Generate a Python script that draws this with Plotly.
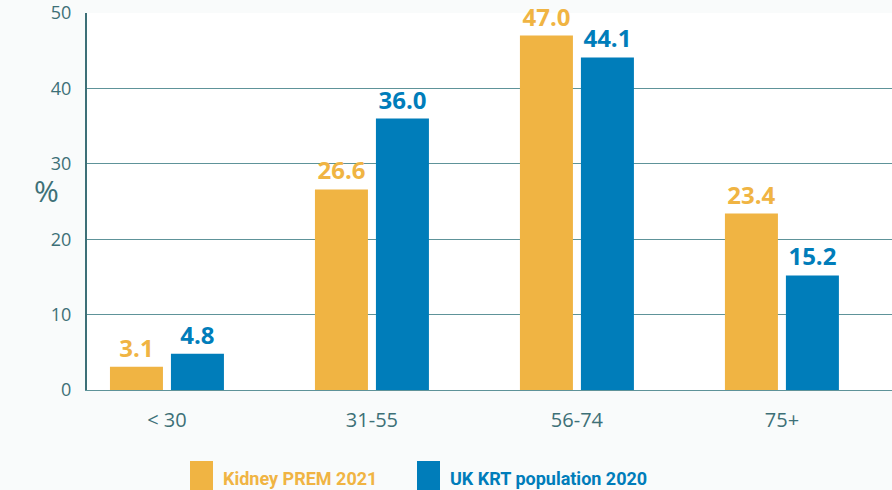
import plotly.graph_objects as go

categories = ["< 30", "31-55", "56-74", "75+"]
series_names = ["Kidney PREM 2021", "UK KRT population 2020"]
prem_2021 = [3.1, 26.6, 47.0, 23.4]
krt_2020 = [4.8, 36.0, 44.1, 15.2]
y_ticks = [0, 10, 20, 30, 40, 50]

ORANGE = "#F0B443"
BLUE = "#007DBA"
TEAL = "#3D7077"
FONT = "Open Sans"

fig = go.Figure()
for name, vals, col in [(series_names[0], prem_2021, ORANGE), (series_names[1], krt_2020, BLUE)]:
    fig.add_trace(go.Bar(
        x=categories, y=vals, name=name, marker=dict(color=col, line=dict(width=0)),
        texttemplate="%{y:.1f}", textposition="outside", cliponaxis=False,
        constraintext="none",
        textfont=dict(color=col, size=24, family=FONT, weight="bold"),
        showlegend=False,
    ))

fig.update_layout(
    width=892, height=490,
    margin=dict(l=87, r=0, t=13, b=100),
    paper_bgcolor="#F9FBFB", plot_bgcolor="#FFFFFF",
    barmode="group", bargap=0.405, bargroupgap=0.131,
    font=dict(family=FONT, color=TEAL),
    xaxis=dict(type="category", range=[-0.39, 3.537], showgrid=False,
               tickfont=dict(size=20, color=TEAL), ticks="", ticklabelstandoff=12,
               showline=True, linecolor="#5E9399", linewidth=1),
    yaxis=dict(range=[0, 50], tickvals=y_ticks, showgrid=True, gridcolor="#5E9399", gridwidth=1,
               tickfont=dict(size=18, color=TEAL), ticks="", ticklabelstandoff=10,
               showline=True, linecolor=TEAL, linewidth=2, zeroline=False),
)

fig.add_annotation(text="%", xref="paper", yref="paper", x=-0.068, y=0.53,
                   showarrow=False, font=dict(size=30, color=TEAL, family=FONT))

# legend drawn with shapes and annotations
legend_x = [190, 417]
for i, (name, col) in enumerate(zip(series_names, [ORANGE, BLUE])):
    x0 = legend_x[i]
    fig.add_shape(type="rect", xref="paper", yref="paper",
                  x0=(x0 - 87) / 805, x1=(x0 + 23 - 87) / 805,
                  y0=(390 - 493) / 377, y1=(390 - 461) / 377,
                  fillcolor=col, line=dict(width=0))
    fig.add_annotation(text=f"<b>{name}</b>", xref="paper", yref="paper",
                       x=(x0 + 31 - 87) / 805, y=(390 - 478) / 377,
                       xanchor="left", yanchor="middle", showarrow=False,
                       font=dict(size=18, color=col, family="Roboto"))

fig.write_html("out.html", config={"displayModeBar": False},
               post_script="document.body.style.margin='0';")
